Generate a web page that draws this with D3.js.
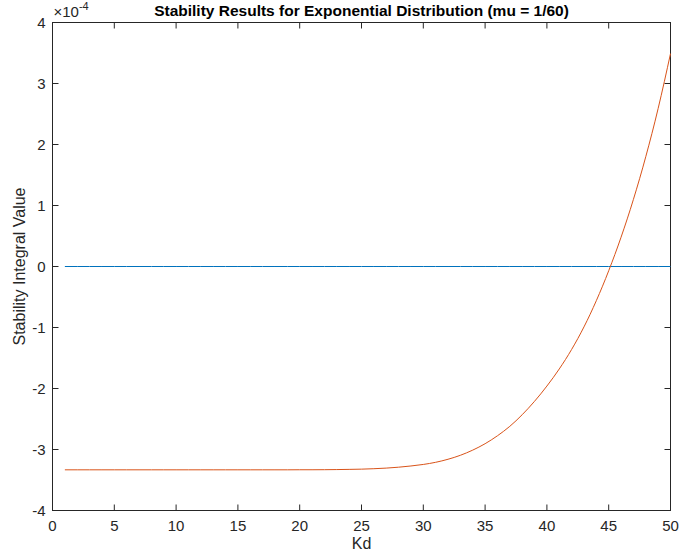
<!DOCTYPE html>
<html>
<head>
<meta charset="utf-8">
<script src="https://cdn.jsdelivr.net/npm/d3@7"></script>
<style>
body { margin: 0; background: #fff; }
text { font-family: "Liberation Sans", Arial, Helvetica, sans-serif; fill: #262626; }
</style>
</head>
<body>
<div id="content"></div>
<script>
// Kd values 1..50
var kd = d3.range(1, 51);
// stability integral, in units of 1e-4
var stability = [
  -3.333, -3.333, -3.333, -3.333, -3.333, -3.333, -3.333, -3.333, -3.333, -3.333,
  -3.333, -3.333, -3.333, -3.333, -3.333, -3.333, -3.333, -3.333, -3.333, -3.332,
  -3.332, -3.331, -3.329, -3.326, -3.322, -3.315, -3.305, -3.29, -3.27, -3.245,
  -3.21, -3.16, -3.095, -3.01, -2.905, -2.775, -2.62, -2.43, -2.21, -1.96,
  -1.68, -1.36, -0.99, -0.56, -0.07, 0.48, 1.10, 1.80, 2.59, 3.49
];
var zeroLine = kd.map(function(){ return 0; });
var xTicks = [0, 5, 10, 15, 20, 25, 30, 35, 40, 45, 50];
var yTicks = [-4, -3, -2, -1, 0, 1, 2, 3, 4];

var W = 680, H = 558;
var pLeft = 52.5, pRight = 670.5, pTop = 22.5, pBottom = 510.5;

var svg = d3.select('#content').append('svg')
    .attr('width', W)
    .attr('height', H);

var x = d3.scaleLinear().domain([0, 50]).range([pLeft, pRight]);
var y = d3.scaleLinear().domain([-4, 4]).range([pBottom, pTop]);

// box
svg.append('rect')
    .attr('x', pLeft).attr('y', pTop)
    .attr('width', pRight - pLeft).attr('height', pBottom - pTop)
    .attr('fill', 'none')
    .attr('stroke', '#262626')
    .attr('stroke-width', 1);

var tl = 6;
// x ticks bottom & top (inward)
svg.append('g').selectAll('line').data(xTicks).enter().append('line')
    .attr('x1', function(d){ return x(d); }).attr('x2', function(d){ return x(d); })
    .attr('y1', pBottom).attr('y2', pBottom - tl)
    .attr('stroke', '#262626');
svg.append('g').selectAll('line').data(xTicks).enter().append('line')
    .attr('x1', function(d){ return x(d); }).attr('x2', function(d){ return x(d); })
    .attr('y1', pTop).attr('y2', pTop + tl)
    .attr('stroke', '#262626');
// y ticks left & right
svg.append('g').selectAll('line').data(yTicks).enter().append('line')
    .attr('x1', pLeft).attr('x2', pLeft + tl)
    .attr('y1', function(d){ return y(d); }).attr('y2', function(d){ return y(d); })
    .attr('stroke', '#262626');
svg.append('g').selectAll('line').data(yTicks).enter().append('line')
    .attr('x1', pRight).attr('x2', pRight - tl)
    .attr('y1', function(d){ return y(d); }).attr('y2', function(d){ return y(d); })
    .attr('stroke', '#262626');

// tick labels
svg.append('g').selectAll('text').data(xTicks).enter().append('text')
    .attr('x', function(d){ return x(d); })
    .attr('y', pBottom + 20)
    .attr('text-anchor', 'middle')
    .attr('font-size', 15)
    .text(function(d){ return d; });
svg.append('g').selectAll('text').data(yTicks).enter().append('text')
    .attr('x', pLeft - 7)
    .attr('y', function(d){ return y(d) + 5; })
    .attr('text-anchor', 'end')
    .attr('font-size', 15)
    .text(function(d){ return d; });

// exponent
var ex = svg.append('text')
    .attr('x', pLeft + 1)
    .attr('y', 17)
    .attr('font-size', 15);
ex.append('tspan').text('\u00d710');
ex.append('tspan').attr('dy', -7).attr('font-size', 11).text('-4');

// lines
var line = d3.line()
    .x(function(d, i){ return x(kd[i]); })
    .y(function(d){ return y(d); })
    .curve(d3.curveMonotoneX);

svg.append('path')
    .datum(zeroLine)
    .attr('d', line)
    .attr('fill', 'none')
    .attr('stroke', '#0072BD')
    .attr('stroke-width', 1);

svg.append('path')
    .datum(stability)
    .attr('d', line)
    .attr('fill', 'none')
    .attr('stroke', '#D95319')
    .attr('stroke-width', 1);

// titles
svg.append('text')
    .attr('x', (pLeft + pRight) / 2)
    .attr('y', 16)
    .attr('text-anchor', 'middle')
    .attr('font-size', 15.5)
    .attr('font-weight', 'bold')
    .style('fill', '#000')
    .text('Stability Results for Exponential Distribution (mu = 1/60)');

svg.append('text')
    .attr('x', (pLeft + pRight) / 2)
    .attr('y', 549)
    .attr('text-anchor', 'middle')
    .attr('font-size', 16)
    .text('Kd');

svg.append('text')
    .attr('transform', 'translate(25,' + ((pTop + pBottom) / 2) + ') rotate(-90)')
    .attr('text-anchor', 'middle')
    .attr('font-size', 16)
    .text('Stability Integral Value');
</script>
</body>
</html>
